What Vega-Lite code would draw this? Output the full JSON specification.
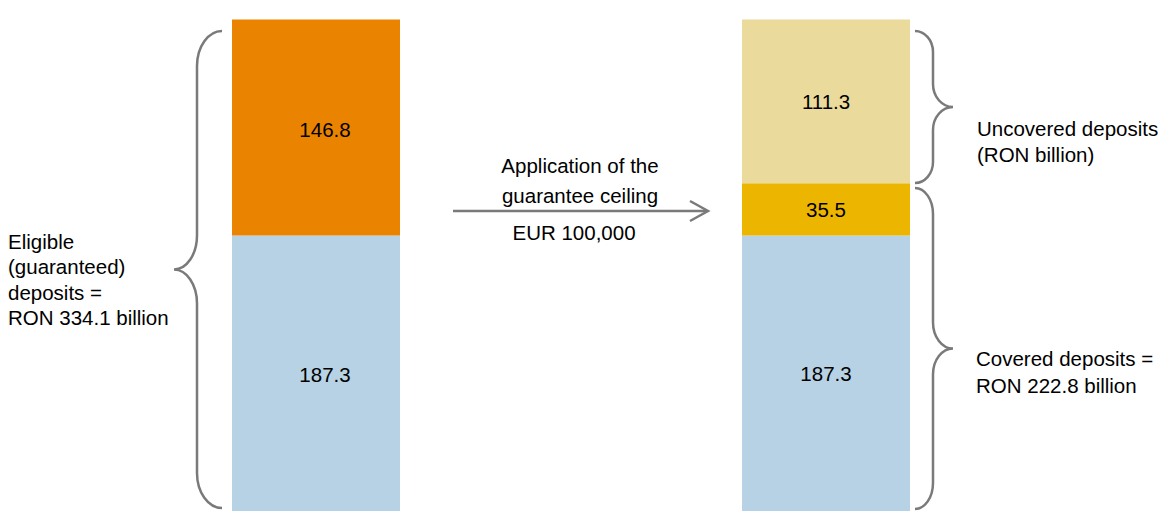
{
  "$schema": "https://vega.github.io/schema/vega-lite/v6.json",
  "width": 1168,
  "height": 511,
  "padding": 0,
  "autosize": {"type": "none"},
  "config": {
    "view": {"stroke": null},
    "axis": {"disable": true},
    "font": "Liberation Sans",
    "text": {"font": "Liberation Sans", "fontSize": 20.5}
  },
  "layer": [
    {
      "data": {
        "values": [
          {"stage": "Eligible deposits", "component": "Deposits up to the ceiling", "layer": 1, "value": 187.3},
          {"stage": "Eligible deposits", "component": "Deposits above the ceiling", "layer": 2, "value": 146.8},
          {"stage": "After the guarantee ceiling", "component": "Deposits up to the ceiling", "layer": 1, "value": 187.3},
          {"stage": "After the guarantee ceiling", "component": "Covered part above the ceiling", "layer": 2, "value": 35.5},
          {"stage": "After the guarantee ceiling", "component": "Uncovered deposits", "layer": 3, "value": 111.3}
        ]
      },
      "transform": [
        {"stack": "value", "groupby": ["stage"], "sort": [{"field": "layer", "order": "ascending"}], "as": ["v0", "v1"]},
        {"calculate": "(datum.v0 + datum.v1) / 2", "as": "mid"}
      ],
      "encoding": {
        "x": {
          "field": "stage",
          "type": "nominal",
          "sort": ["Eligible deposits", "After the guarantee ceiling"],
          "scale": {"paddingInner": 0.6706, "paddingOuter": 0.4804, "align": 0.4735},
          "axis": null
        }
      },
      "layer": [
        {
          "mark": {"type": "bar"},
          "encoding": {
            "y": {"field": "v1", "type": "quantitative", "scale": {"domain": [0, 347.4], "nice": false, "zero": true}, "axis": null},
            "y2": {"field": "v0"},
            "color": {
              "field": "component",
              "type": "nominal",
              "scale": {
                "domain": ["Deposits up to the ceiling", "Deposits above the ceiling", "Covered part above the ceiling", "Uncovered deposits"],
                "range": ["#B7D2E4", "#EA8300", "#ECB600", "#EADB9C"]
              },
              "legend": null
            }
          }
        },
        {
          "transform": [{"filter": "datum.stage === 'Eligible deposits'"}],
          "mark": {"type": "text", "color": "#000000", "fontSize": 20.5, "align": "center", "baseline": "middle", "dx": 9, "dy": 3},
          "encoding": {
            "y": {"field": "mid", "type": "quantitative", "scale": {"domain": [0, 347.4], "nice": false, "zero": true}, "axis": null},
            "text": {"field": "value", "type": "quantitative", "format": ".1f"}
          }
        },
        {
          "transform": [{"filter": "datum.stage !== 'Eligible deposits'"}],
          "mark": {"type": "text", "color": "#000000", "fontSize": 20.5, "align": "center", "baseline": "middle", "dy": 2},
          "encoding": {
            "y": {"field": "mid", "type": "quantitative", "scale": {"domain": [0, 347.4], "nice": false, "zero": true}, "axis": null},
            "text": {"field": "value", "type": "quantitative", "format": ".1f"}
          }
        }
      ]
    },
    {
      "layer": [
        {
          "data": {"values": [{}]},
          "mark": {"type": "text", "text": ["Eligible", "(guaranteed)", "deposits =", "RON 334.1 billion"], "align": "left", "baseline": "top", "lineHeight": 25.2, "fontSize": 20.5, "color": "#000000"},
          "encoding": {
            "x": {"datum": 8, "type": "quantitative", "scale": {"domain": [0, 1168], "nice": false, "zero": false}, "axis": null},
            "y": {"datum": 188.8, "type": "quantitative", "scale": {"domain": [0, 347.4], "nice": false, "zero": true}, "axis": null}
          }
        },
        {
          "data": {"values": [{}]},
          "mark": {"type": "text", "text": ["Application of the", "guarantee ceiling"], "align": "center", "baseline": "top", "lineHeight": 29.4, "fontSize": 20.5, "color": "#000000"},
          "encoding": {
            "x": {"datum": 580, "type": "quantitative", "scale": {"domain": [0, 1168], "nice": false, "zero": false}, "axis": null},
            "y": {"datum": 240.46, "type": "quantitative", "scale": {"domain": [0, 347.4], "nice": false, "zero": true}, "axis": null}
          }
        },
        {
          "data": {"values": [{}]},
          "mark": {"type": "text", "text": "EUR 100,000", "align": "center", "baseline": "alphabetic", "fontSize": 20.5, "color": "#000000"},
          "encoding": {
            "x": {"datum": 574, "type": "quantitative", "scale": {"domain": [0, 1168], "nice": false, "zero": false}, "axis": null},
            "y": {"datum": 184.24, "type": "quantitative", "scale": {"domain": [0, 347.4], "nice": false, "zero": true}, "axis": null}
          }
        },
        {
          "data": {"values": [{}]},
          "mark": {"type": "text", "text": ["Uncovered deposits", "(RON billion)"], "align": "left", "baseline": "top", "lineHeight": 25.7, "fontSize": 20.5, "color": "#000000"},
          "encoding": {
            "x": {"datum": 977, "type": "quantitative", "scale": {"domain": [0, 1168], "nice": false, "zero": false}, "axis": null},
            "y": {"datum": 265.82, "type": "quantitative", "scale": {"domain": [0, 347.4], "nice": false, "zero": true}, "axis": null}
          }
        },
        {
          "data": {"values": [{}]},
          "mark": {"type": "text", "text": ["Covered deposits =", "RON 222.8 billion"], "align": "left", "baseline": "top", "lineHeight": 26.7, "fontSize": 20.5, "color": "#000000"},
          "encoding": {
            "x": {"datum": 976, "type": "quantitative", "scale": {"domain": [0, 1168], "nice": false, "zero": false}, "axis": null},
            "y": {"datum": 109.45, "type": "quantitative", "scale": {"domain": [0, 347.4], "nice": false, "zero": true}, "axis": null}
          }
        },
        {
          "data": {"values": [{}]},
          "mark": {"type": "rule", "color": "#7a7a7a", "strokeWidth": 2.5},
          "encoding": {
            "x": {"datum": 453, "type": "quantitative", "scale": {"domain": [0, 1168], "nice": false, "zero": false}, "axis": null},
            "x2": {"datum": 706},
            "y": {"datum": 203.95, "type": "quantitative", "scale": {"domain": [0, 347.4], "nice": false, "zero": true}, "axis": null}
          }
        },
        {
          "data": {"values": [{}]},
          "mark": {"type": "point", "shape": "M -18 -10 L 0 0 L -18 10", "size": 4, "filled": false, "color": "#7a7a7a", "strokeWidth": 2.5, "opacity": 1},
          "encoding": {
            "x": {"datum": 708, "type": "quantitative", "scale": {"domain": [0, 1168], "nice": false, "zero": false}, "axis": null},
            "y": {"datum": 203.95, "type": "quantitative", "scale": {"domain": [0, 347.4], "nice": false, "zero": true}, "axis": null}
          }
        },
        {
          "data": {"values": [{}]},
          "mark": {"type": "point", "shape": "M 25 -238.5 C 11.2 -238.5 0 -222.8 0 -203.5 L 0 -34 C 0 -15.2 -10.3 0 -23 0 C -10.3 0 0 15.2 0 34 L 0 203.5 C 0 222.8 11.2 238.5 25 238.5", "size": 4, "filled": false, "color": "#7a7a7a", "strokeWidth": 2.5, "opacity": 1},
          "encoding": {
            "x": {"datum": 197, "type": "quantitative", "scale": {"domain": [0, 1168], "nice": false, "zero": false}, "axis": null},
            "y": {"datum": 164.18, "type": "quantitative", "scale": {"domain": [0, 347.4], "nice": false, "zero": true}, "axis": null}
          }
        },
        {
          "data": {"values": [{}]},
          "mark": {"type": "point", "shape": "M -18 -76 C -8.1 -76 0 -66.6 0 -55 L 0 -23 C 0 -10.3 9 0 20 0 C 9 0 0 10.3 0 23 L 0 55 C 0 66.6 -8.1 76 -18 76", "size": 4, "filled": false, "color": "#7a7a7a", "strokeWidth": 2.5, "opacity": 1},
          "encoding": {
            "x": {"datum": 933, "type": "quantitative", "scale": {"domain": [0, 1168], "nice": false, "zero": false}, "axis": null},
            "y": {"datum": 274.66, "type": "quantitative", "scale": {"domain": [0, 347.4], "nice": false, "zero": true}, "axis": null}
          }
        },
        {
          "data": {"values": [{}]},
          "mark": {"type": "point", "shape": "M -18 -160.5 C -8.1 -160.5 0 -148.9 0 -134.5 L 0 -26 C 0 -11.6 9 0 20 0 C 9 0 0 11.6 0 26 L 0 134.5 C 0 148.9 -8.1 160.5 -18 160.5", "size": 4, "filled": false, "color": "#7a7a7a", "strokeWidth": 2.5, "opacity": 1},
          "encoding": {
            "x": {"datum": 933, "type": "quantitative", "scale": {"domain": [0, 1168], "nice": false, "zero": false}, "axis": null},
            "y": {"datum": 110.48, "type": "quantitative", "scale": {"domain": [0, 347.4], "nice": false, "zero": true}, "axis": null}
          }
        }
      ]
    }
  ],
  "resolve": {"scale": {"x": "independent"}}
}
